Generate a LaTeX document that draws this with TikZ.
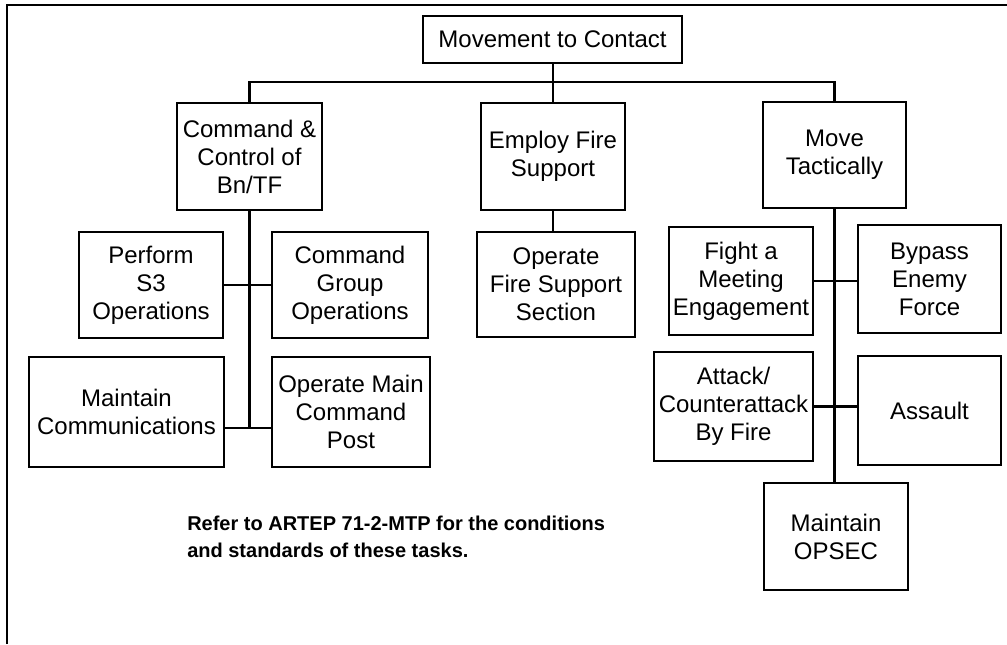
\documentclass[tikz,border=0pt]{standalone}
\usepackage{fontspec}
\setmainfont{Liberation Sans}
\begin{document}
\begin{tikzpicture}[x=0.75pt,y=-0.75pt,
  task/.style={draw, line width=2pt, align=center, inner sep=0pt,
    font=\fontsize{18pt}{21pt}\selectfont},
  sz/.style 2 args={minimum width=#1*0.75pt, minimum height=#2*0.75pt},
  link/.style={line width=1.8pt},
  frame/.style={line width=2pt}]
\useasboundingbox (0,0) rectangle (1007,644);

% outer frame (left and top edges)
\coordinate (f0) at (7,644);
\coordinate (f1) at (7,5);
\coordinate (f2) at (1007,5);
\draw[frame] (f0) -- (f1) -- (f2);

% top task
\node[task, sz={259}{47}] (top) at (552.5,39.5) {Movement to Contact};

% second level
\node[task, sz={145}{107}] (cc)  at (249.5,156.5) {Command \&\\Control of\\Bn/TF};
\node[task, sz={144}{107}] (efs) at (553,156.5) {Employ Fire\\Support};
\node[task, sz={143}{106}] (mt)  at (834.5,155) {Move\\Tactically};

% command and control subtasks
\node[task, sz={144}{106}] (s3)   at (151,285)   {Perform\\S3\\Operations};
\node[task, sz={156}{106}] (cg)   at (350,285)   {Command\\Group\\Operations};
\node[task, sz={195}{110}] (mc)   at (126.5,412) {Maintain\\Communications};
\node[task, sz={158}{110}] (omcp) at (351,412)   {Operate Main\\Command\\Post};

% fire support subtask
\node[task, sz={158}{105}] (ofs) at (556,284.5) {Operate\\Fire Support\\Section};

% movement subtasks
\node[task, sz={144}{108}] (fme)   at (741,281)     {Fight a\\Meeting\\Engagement};
\node[task, sz={143}{108}] (bef)   at (929.5,279)   {Bypass\\Enemy\\Force};
\node[task, sz={159}{109}] (acb)   at (733.5,406.5) {Attack/\\Counterattack\\By Fire};
\node[task, sz={143}{109}] (asl)   at (929.5,410.5) {Assault};
\node[task, sz={144}{107}] (opsec) at (836,536.5)   {Maintain\\OPSEC};

% note
\node[anchor=north west, align=left, inner sep=0pt,
  font=\fontsize{15pt}{20pt}\selectfont\bfseries] (note) at (187,516)
  {Refer to ARTEP 71-2-MTP for the conditions\\and standards of these tasks.};

% connectors
\coordinate (bus) at (553,82);
\draw[link] (top.south -| efs.north) -- (efs.north);
\draw[link] (cc.north) |- (bus) -| (mt.north);

\coordinate (j2) at (249.5,428);
\draw[link] (cc.south) -- (j2);
\draw[link] (s3.east) -- (cg.west);
\draw[link] (mc.east |- j2) -- (omcp.west |- j2);

\draw[link] (efs.south) -- (efs.south |- ofs.north);

\draw[link] (mt.south) -- (mt.south |- opsec.north);
\draw[link] (fme.east) -- (bef.west |- fme.east);
\draw[link] (acb.east) -- (asl.west |- acb.east);
\end{tikzpicture}
\end{document}
